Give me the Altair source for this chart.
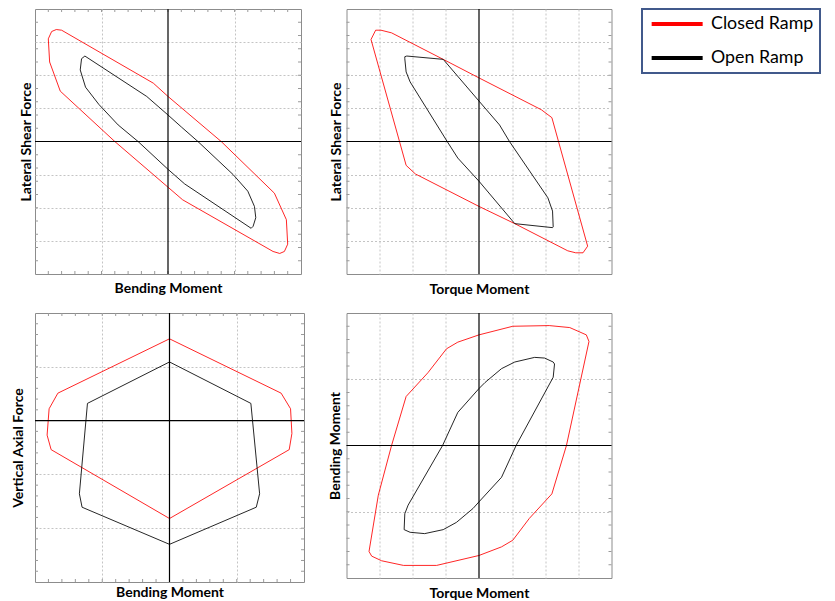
import altair as alt
import pandas as pd

# ---------------- data (arbitrary units) ----------------
SERIES = ["Closed Ramp", "Open Ramp"]

p1_closed_x = [-9.0, -8.75, -8.4, -8.0, -1.1, 0.0, 4.0, 8.0, 8.9, 9.0, 8.75, 8.4, 7.9, 1.1, 0.0, -4.0, -8.1, -8.9]
p1_closed_y = [7.75, 8.3, 8.45, 8.4, 4.4, 3.4, 0.0, -3.9, -5.9, -7.75, -8.3, -8.45, -8.3, -4.4, -3.45, 0.0, 3.8, 6.0]
p1_open_x = [-6.25, -1.6, 0.0, 1.0, 2.25, 4.9, 6.0, 6.5, 6.6, 6.4, 6.25, 1.25, 0.0, -2.25, -3.75, -5.2, -6.2, -6.6, -6.5]
p1_open_y = [6.45, 3.4, 2.0, 1.1, 0.0, -2.5, -3.75, -4.9, -5.75, -6.4, -6.55, -3.2, -2.1, 0.0, 1.25, 2.8, 4.1, 5.4, 6.25]

p2_closed_x = [-8.15, -7.8, -7.4, -6.6, -2.7, 0.0, 4.7, 5.5, 6.0, 8.2, 7.85, 7.3, 6.7, 2.7, 0.0, -4.8, -5.5, -6.0]
p2_closed_y = [7.7, 8.4, 8.4, 8.2, 6.2, 4.8, 2.4, 1.8, 0.0, -7.9, -8.4, -8.4, -8.25, -6.2, -4.9, -2.45, -1.8, 0.0]
p2_open_x = [-5.6, -5.45, -2.7, 0.0, 1.55, 2.3, 5.2, 5.55, 5.6, 5.55, 2.7, 0.0, -1.6, -2.4, -5.2, -5.5, -5.6]
p2_open_y = [6.4, 6.45, 6.2, 3.05, 1.25, 0.0, -4.25, -5.25, -6.45, -6.5, -6.2, -3.0, -1.25, 0.0, 4.5, 5.25, 6.25]

p3_closed_x = [0.0, 8.3, 9.0, 9.1, 8.9, 0.0, -8.8, -9.1, -8.95, -8.3]
p3_closed_y = [7.6, 2.55, 1.1, -1.2, -2.7, -9.1, -2.7, -1.35, 1.1, 2.55]
p3_open_x = [0.0, 6.05, 6.7, 6.45, 0.0, -6.5, -6.7, -6.1]
p3_open_y = [5.45, 1.6, -6.8, -8.05, -11.5, -8.05, -6.8, 1.6]

p4_closed_x = [8.3, 8.1, 6.85, 5.3, 2.55, 0.0, -1.6, -2.45, -3.85, -5.5, -6.6, -7.6, -8.3, -8.1, -7.35, -5.7, -3.2, 0.0, 1.7, 2.55, 3.8, 5.5, 6.6]
p4_closed_y = [7.85, 8.35, 8.9, 9.05, 9.0, 8.35, 7.8, 7.3, 5.5, 3.7, 0.0, -3.75, -8.0, -8.35, -8.7, -9.05, -9.05, -8.3, -7.65, -7.15, -5.5, -3.65, 0.0]
p4_open_x = [5.7, 5.6, 4.95, 4.2, 2.7, 1.7, 0.45, 0.0, -1.6, -2.75, -5.35, -5.6, -5.65, -5.2, -4.1, -2.7, -1.7, -0.45, 0.0, 1.7, 2.8, 5.6]
p4_open_y = [6.15, 6.3, 6.6, 6.65, 6.3, 5.8, 4.75, 4.3, 2.5, 0.0, -4.5, -5.15, -6.35, -6.55, -6.65, -6.35, -5.8, -4.75, -4.25, -2.4, 0.0, 5.15]

dom = [-10, 10]
dom_p3_y = [-15, 10]
grid_5 = [-5, 5]
grid_2_5 = [-7.5, -5, -2.5, 2.5, 5, 7.5]
grid_p3_y = [-10, -5, 5]
ticks_std = list(range(-9, 10))
ticks_p3_y = list(range(-14, 10))

TITLE_FONT = "Lato"
TICK_COLOR = "#9a9a9a"
GRID_COLOR = "#c4c4c4"

color_enc = alt.Color(
    "series:N",
    scale=alt.Scale(domain=SERIES, range=["#ff0000", "#000000"]),
    legend=alt.Legend(
        title=None, orient="none", legendX=607, legendY=0,
        symbolType="M-5.1,0H5.1", symbolSize=100, symbolStrokeWidth=4,
        symbolOffset=20.25, labelOffset=25, symbolOpacity=1,
        labelFont=TITLE_FONT, labelFontSize=17.8, labelColor="black",
        rowPadding=15, padding=6, strokeColor="#41598b", fillColor="white",
    ),
)


def closed_frame(cx, cy, ox, oy):
    rows = []
    for name, xs, ys in ((SERIES[0], cx, cy), (SERIES[1], ox, oy)):
        pts = list(zip(xs, ys)) + [(xs[0], ys[0])]
        for i, (a, b) in enumerate(pts):
            rows.append({"x": a, "y": b, "series": name, "i": i})
    return pd.DataFrame(rows)


def panel(cx, cy, ox, oy, xdom, ydom, xgrid, ygrid, xticks, yticks,
          xtitle, ytitle, w, h, xtp, ytp):
    df = closed_frame(cx, cy, ox, oy)
    xs = alt.Scale(domain=xdom, nice=False, zero=False)
    ys = alt.Scale(domain=ydom, nice=False, zero=False)
    common = dict(grid=True, ticks=False, labels=False, domain=False,
                  gridColor=GRID_COLOR, gridDash=[2, 2], gridWidth=1,
                  minExtent=0, titleFont=TITLE_FONT, titleFontSize=14,
                  titleFontWeight="bold", titleColor="black")
    x_axis = alt.Axis(values=xgrid, title=xtitle, titlePadding=xtp, **common)
    y_axis = alt.Axis(values=ygrid, title=ytitle, titlePadding=ytp, **common)
    lines = alt.Chart(df).mark_line(strokeWidth=1, strokeOpacity=0.85).encode(
        x=alt.X("x:Q", scale=xs, axis=x_axis),
        y=alt.Y("y:Q", scale=ys, axis=y_axis),
        color=color_enc,
        detail="series:N",
        order="i:Q",
    )
    layers = [lines]
    if xticks:
        tdf = pd.DataFrame({"t": xticks})
        xt = alt.X("t:Q", scale=xs, axis=x_axis)
        layers.append(alt.Chart(tdf).mark_rule(color=TICK_COLOR, strokeWidth=1)
                      .encode(x=xt, y=alt.value(h), y2=alt.value(h - 3)))
        layers.append(alt.Chart(tdf).mark_rule(color=TICK_COLOR, strokeWidth=1)
                      .encode(x=xt, y=alt.value(0), y2=alt.value(3)))
    if yticks:
        tdf = pd.DataFrame({"t": yticks})
        yt = alt.Y("t:Q", scale=ys, axis=y_axis)
        layers.append(alt.Chart(tdf).mark_rule(color=TICK_COLOR, strokeWidth=1)
                      .encode(y=yt, x=alt.value(0), x2=alt.value(3)))
        layers.append(alt.Chart(tdf).mark_rule(color=TICK_COLOR, strokeWidth=1)
                      .encode(y=yt, x=alt.value(w), x2=alt.value(w - 3)))
    zdf = pd.DataFrame({"v": [0]})
    layers.append(alt.Chart(zdf).mark_rule(color="black", strokeWidth=1.2)
                  .encode(x=alt.X("v:Q", scale=xs, axis=x_axis)))
    layers.append(alt.Chart(zdf).mark_rule(color="black", strokeWidth=1.2)
                  .encode(y=alt.Y("v:Q", scale=ys, axis=y_axis)))
    return alt.layer(*layers).properties(width=w, height=h)


p1 = panel(p1_closed_x, p1_closed_y, p1_open_x, p1_open_y, dom, dom, grid_5, grid_2_5,
           ticks_std, ticks_std, "Bending Moment", "Lateral Shear Force", 266, 265, 7.7, 2.0)
p2 = panel(p2_closed_x, p2_closed_y, p2_open_x, p2_open_y, dom, dom, grid_2_5, grid_2_5,
           [], ticks_std, "Torque Moment", "Lateral Shear Force", 265, 265, 8.7, 3.3)
p3 = panel(p3_closed_x, p3_closed_y, p3_open_x, p3_open_y, dom, dom_p3_y, grid_5, grid_p3_y,
           ticks_std, ticks_p3_y, "Bending Moment", "Vertical Axial Force", 269, 269, 3.0, 9.3)
p4 = panel(p4_closed_x, p4_closed_y, p4_open_x, p4_open_y, dom, dom, grid_2_5, grid_5,
           [], ticks_std, "Torque Moment", "Bending Moment", 265, 265, 8.0, 4.5)

chart = (
    alt.concat(p1, p2, p3, p4, columns=2, spacing={"row": 13, "column": 21.5})
    .properties(padding={"left": 3, "top": -1, "right": 0, "bottom": 0}, background="white")
    .configure_view(stroke="#8c8c8c", strokeWidth=1)
    .configure_legend(strokeWidth=2)
)

chart.save("out.html", embed_options={"renderer": "svg", "actions": False})
